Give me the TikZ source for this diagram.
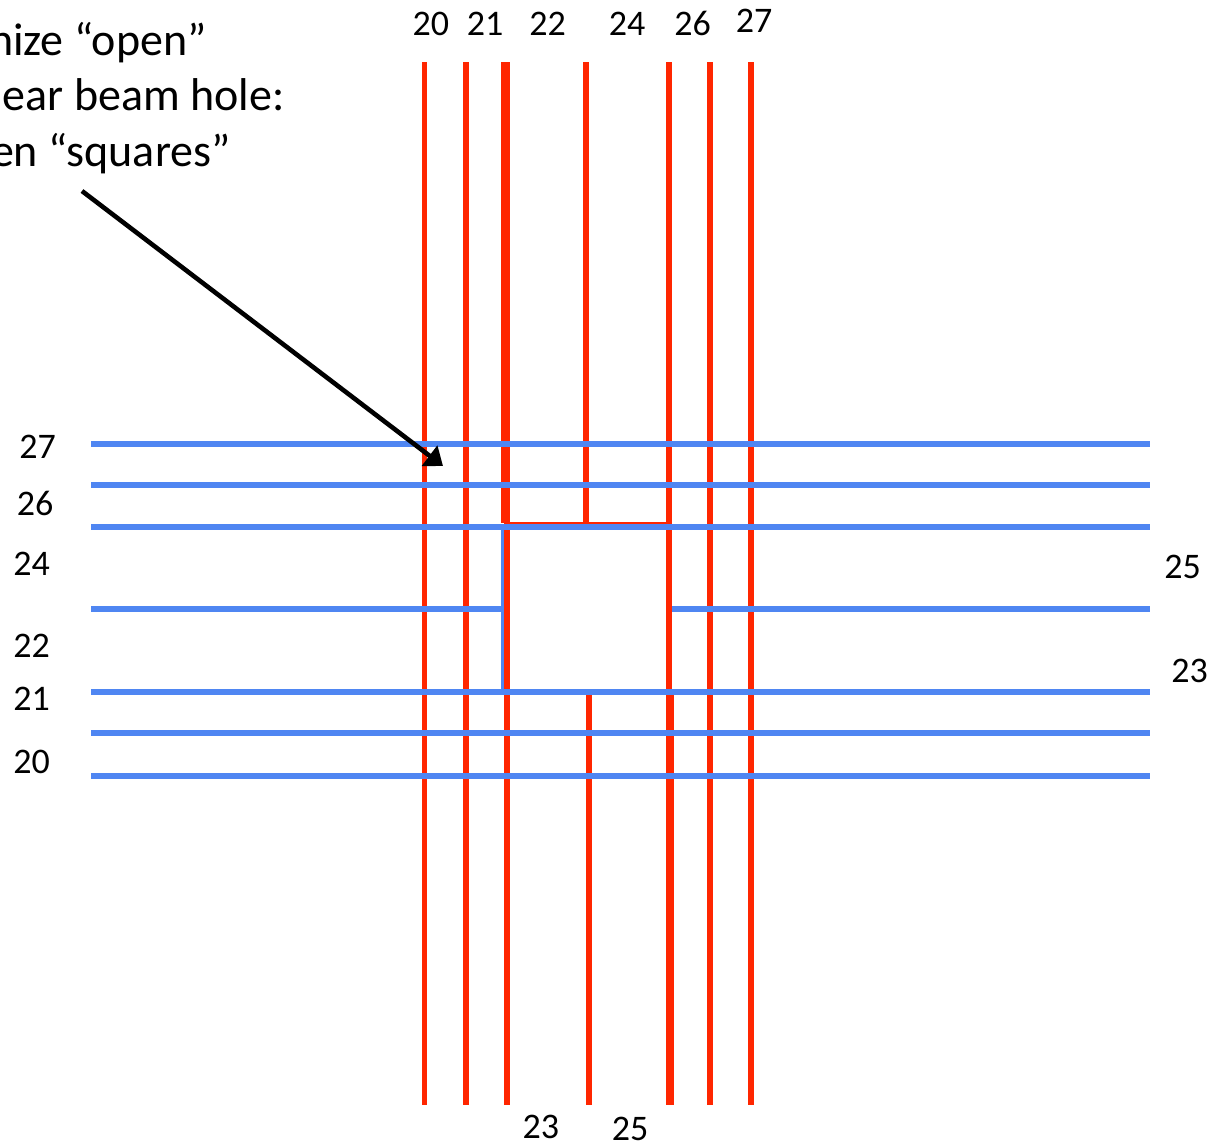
\documentclass[tikz,border=0pt]{standalone}
\usepackage{fontspec}
\setmainfont{Carlito}
\usetikzlibrary{arrows.meta}
\definecolor{hodoInk}{HTML}{000000}
\definecolor{hodoRed}{HTML}{FF2600}
\definecolor{hodoBlue}{HTML}{4F86F2}
\tikzset{
  every picture/.style={text=hodoInk},
  hodo red/.style={draw=hodoRed, line width=2.75pt},
  hodo blue/.style={draw=hodoBlue, line width=3pt},
  hodo label/.style={inner sep=0pt, anchor=base, font=\fontsize{18}{22}\selectfont},
  hodo note/.style={inner sep=0pt, anchor=base east, font=\fontsize{23}{28}\selectfont},
  hodo arrow/.style={-{Triangle[length=8.5pt,width=12.5pt]},
    draw=hodoInk, line width=2.3pt}
}

\begin{document}
\begin{tikzpicture}[x=0.5pt,y=-0.5pt]
  \useasboundingbox (0,0) rectangle (1214,1146);
  % vertical fibres
  \foreach \x in {424.5,466,669,710,751}{
    \draw[hodo red] (\x,62) -- (\x,1105);
  }
  \draw[hodo red, line width=4.3pt] (505.3,62) -- (505.3,523);
  \draw[hodo red, line width=3pt] (506.8,523) -- (506.8,1105);
  \draw[hodo red] (586,62) -- (586,523);
  \draw[hodo red] (589,691) -- (589,1105);
  \draw[hodo red, line width=3.8pt] (670,691) -- (670,1105);
  \draw[hodo red, line width=1.4pt] (506,523.3) -- (669,523.3);
  % horizontal fibres
  \foreach \y in {443.5,485,527,691.5,733,776}{
    \draw[hodo blue] (91,\y) -- (1150,\y);
  }
  \draw[hodo blue] (91,609) -- (503,609);
  \draw[hodo blue] (672,609) -- (1150,609);
  \draw[hodo blue, line width=2.4pt] (503,527) -- (503,691.5);
  \draw[hodo red, line width=3pt] (507.2,530) -- (507.2,688.5);
  % top labels
  \node[hodo label] (top20) at (430.8,35) {20};
  \node[hodo label] (top21) at (485,35) {21};
  \node[hodo label] (top22) at (547.5,35) {22};
  \node[hodo label] (top24) at (627,35) {24};
  \node[hodo label] (top26) at (692.5,35) {26};
  \node[hodo label] (top27) at (754,32) {27};
  % left labels
  \node[hodo label] (left27) at (37.5,458) {27};
  \node[hodo label] (left26) at (35,515) {26};
  \node[hodo label] (left24) at (31.5,575) {24};
  \node[hodo label] (left22) at (31.5,657) {22};
  \node[hodo label] (left21) at (31.5,710) {21};
  \node[hodo label] (left20) at (31.5,773) {20};
  % right and bottom labels
  \node[hodo label] (right25) at (1182.5,578) {25};
  \node[hodo label] (right23) at (1189.5,682) {23};
  \node[hodo label] (bot23) at (540.8,1138) {23};
  \node[hodo label] (bot25) at (630,1140) {25};
  % note
  \node[hodo note] (note1) at (207,55) {nize “open”};
  \node[hodo note] (note2) at (285,110.5) {ear beam hole:};
  \node[hodo note] (note3) at (231,166.5) {en “squares”};
  \coordinate (arrowtail) at (82,191);
  \coordinate (arrowtip) at (443,466);
  \draw[hodo arrow] (arrowtail) -- (arrowtip);
\end{tikzpicture}
\end{document}
